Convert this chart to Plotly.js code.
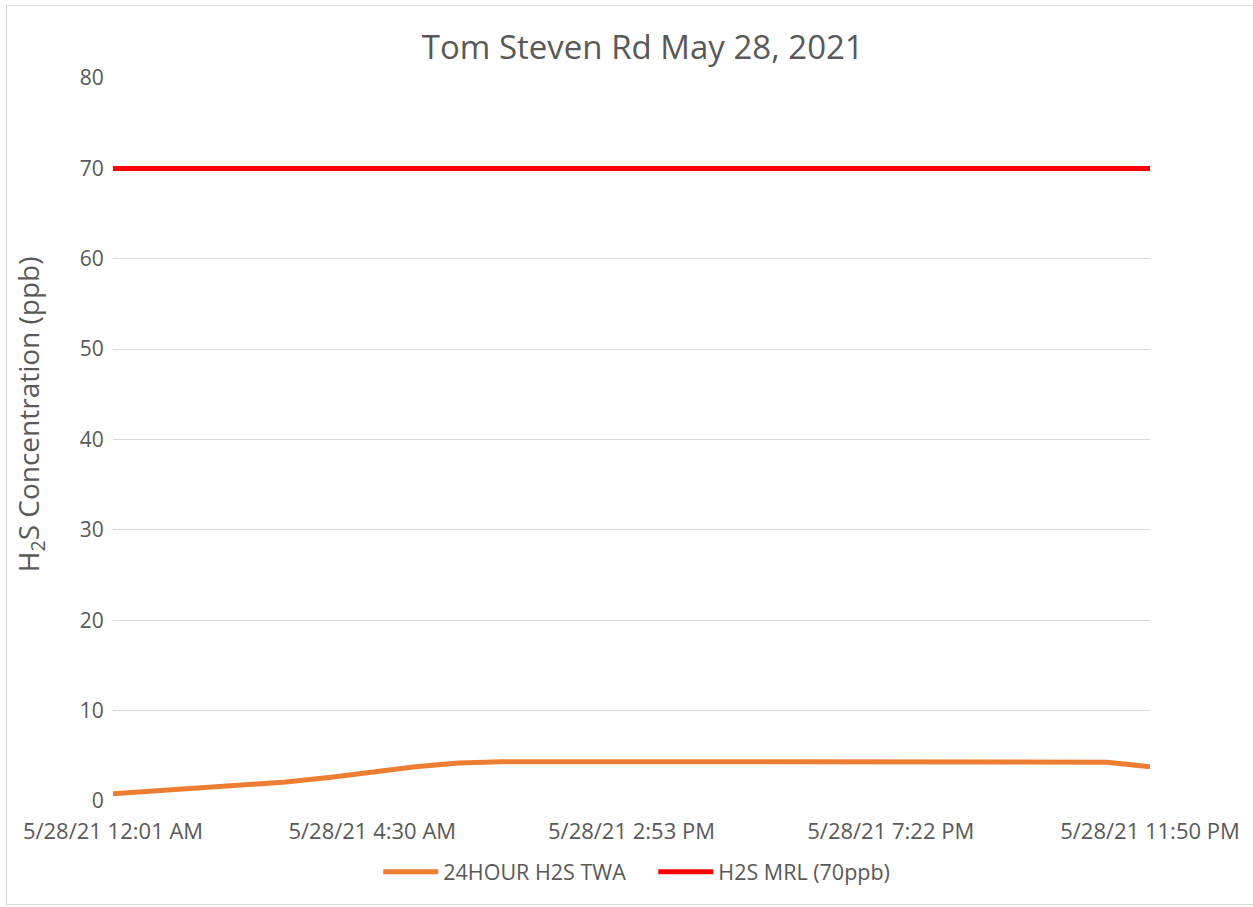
<!DOCTYPE html>
<html>
<head>
<meta charset="utf-8">
<script src="https://cdn.plot.ly/plotly-3.0.1.min.js"></script>
<style>
  html, body { margin: 0; padding: 0; background: #fff; }
  #frame { position: absolute; left: 6px; top: 5px; width: 1250px; height: 900px; border: 1px solid #d9d9d9; box-sizing: border-box; pointer-events: none; }
  #chart { position: absolute; left: 0; top: 0; width: 1253px; height: 907px; }
</style>
</head>
<body>
<div id="chart"></div>
<div id="frame"></div>
<script>
const titleText = "Tom Steven Rd May 28, 2021";
const yTitle = "H<sub>2</sub>S Concentration (ppb)";
const times = [
  "5/28/21 12:01 AM", "5/28/21 12:46 AM", "5/28/21 1:31 AM", "5/28/21 2:16 AM",
  "5/28/21 3:00 AM", "5/28/21 3:45 AM", "5/28/21 4:30 AM", "5/28/21 5:15 AM",
  "5/28/21 6:00 AM", "5/28/21 6:44 AM", "5/28/21 12:38 PM", "5/28/21 1:23 PM",
  "5/28/21 2:53 PM", "5/28/21 3:38 PM", "5/28/21 4:23 PM", "5/28/21 5:07 PM",
  "5/28/21 5:52 PM", "5/28/21 6:37 PM", "5/28/21 7:22 PM", "5/28/21 8:07 PM",
  "5/28/21 8:51 PM", "5/28/21 9:36 PM", "5/28/21 10:21 PM", "5/28/21 11:06 PM",
  "5/28/21 11:50 PM"
];
const tickLabels = ["5/28/21 12:01 AM", "5/28/21 4:30 AM", "5/28/21 2:53 PM", "5/28/21 7:22 PM", "5/28/21 11:50 PM"];
const twa = [0.8, 1.1, 1.4, 1.8, 2.1, 2.6, 3.2, 3.8, 4.2, 4.35, 4.35, 4.35,
             4.35, 4.35, 4.35, 4.35, 4.35, 4.35, 4.35, 4.35, 4.35, 4.35, 4.35, 4.3, 3.8];
const mrl = [70, 70, 70, 70, 70, 70, 70, 70, 70, 70, 70, 70,
             70, 70, 70, 70, 70, 70, 70, 70, 70, 70, 70, 70, 70];
const seriesNames = ["24HOUR H2S TWA", "H2S MRL (70ppb)"];

const font = "Open Sans, Noto Sans, sans-serif";
const grey = "#595959";

const traces = [
  { x: times, y: twa, type: "scatter", mode: "lines", name: seriesNames[0],
    line: { color: "#ED7D31", width: 5 } },
  { x: times, y: mrl, type: "scatter", mode: "lines", name: seriesNames[1],
    line: { color: "#FF0000", width: 5 } }
];

const layout = {
  width: 1253, height: 907,
  paper_bgcolor: "#fff", plot_bgcolor: "#fff",
  margin: { l: 113, r: 103, t: 78, b: 106 },
  font: { family: font, color: grey, size: 22 },
  title: { text: titleText, x: 0.513, xanchor: "center", y: 0.948, yanchor: "middle",
           font: { family: font, size: 33, color: grey } },
  xaxis: {
    type: "category", categoryorder: "array", categoryarray: times,
    range: [0, times.length - 1],
    tickmode: "array", tickvals: tickLabels, ticktext: tickLabels,
    showgrid: false, zeroline: false, showline: false,
    ticks: "outside", ticklen: 11, tickcolor: "rgba(0,0,0,0)",
    tickfont: { family: font, size: 22, color: grey },
    fixedrange: true
  },
  yaxis: {
    range: [0, 80], dtick: 10, tick0: 0,
    showgrid: true, gridcolor: "#d9d9d9", gridwidth: 1,
    zeroline: false, showline: false,
    ticks: "outside", ticklen: 4, tickcolor: "rgba(0,0,0,0)",
    tickfont: { family: font, size: 21, color: grey },
    fixedrange: true
  },
  annotations: [{
    text: yTitle, textangle: -90, xref: "paper", yref: "paper",
    x: -0.080, y: 0.535, xanchor: "center", yanchor: "middle", showarrow: false,
    font: { family: font, size: 28, color: grey }
  }],
  showlegend: true,
  legend: { orientation: "h", x: 0.521, xanchor: "center", y: -0.098, yanchor: "middle",
            font: { family: font, size: 21.5, color: grey }, itemwidth: 55,
            entrywidth: 205, traceorder: "normal" }
};

Plotly.newPlot("chart", traces, layout, { displayModeBar: false, staticPlot: true });
</script>
</body>
</html>
